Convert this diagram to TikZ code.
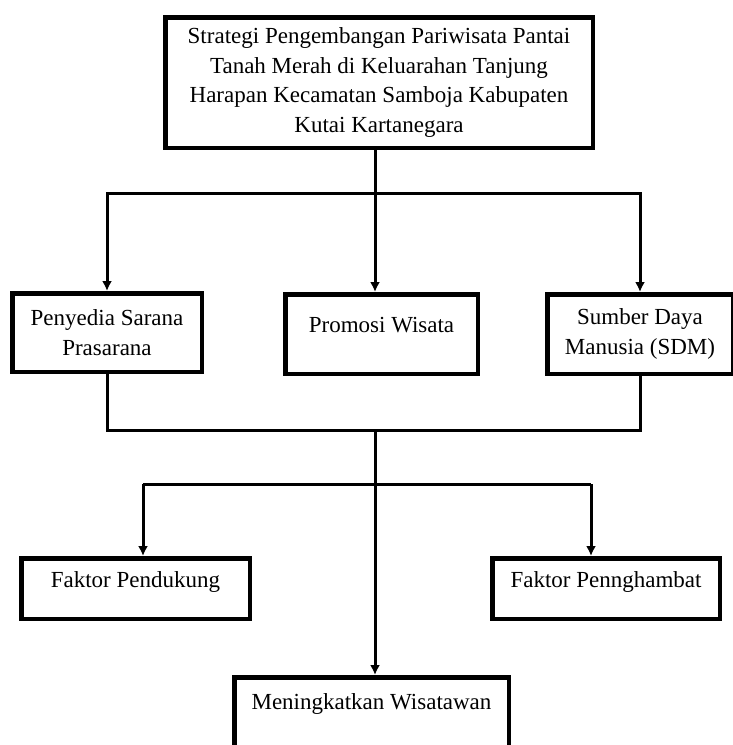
\documentclass[tikz,border=0pt]{standalone}
\usepackage{fontspec}
\setmainfont{Liberation Serif}
\usetikzlibrary{arrows.meta}

\begin{document}
\begin{tikzpicture}[x=1pt, y=-1pt,
    kotak/.style={draw, line width=4.5pt, inner sep=0pt, align=center, font=\fontsize{23}{29.5}\selectfont},
    atas/.style={text height=16pt, text depth=#1},
    garis/.style={line width=3pt},
    panah/.style={line width=3pt, -{Latex[length=10pt,width=10pt]}}]
    \useasboundingbox (0,0) rectangle (733,745);
    \clip (0,0) rectangle (733,745);

    \node[kotak, minimum width=427.5pt, minimum height=130.5pt] (strategi) at (379,82.5)
        {Strategi Pengembangan Pariwisata Pantai\\ Tanah Merah di Keluarahan Tanjung\\ Harapan Kecamatan Samboja Kabupaten\\ Kutai Kartanegara};

    \node[kotak, minimum width=189.5pt, minimum height=78.5pt] (sarana) at (107,332.5) {Penyedia Sarana\\ Prasarana};
    \node[kotak, atas=20pt, minimum width=192.5pt, minimum height=79.5pt] (promosi) at (381.5,334) {Promosi Wisata};
    \node[kotak, minimum width=185.5pt, minimum height=79.5pt] (sdm) at (640,334) {Sumber Daya\\ Manusia (SDM)};

    \node[kotak, atas=19pt, minimum width=228.5pt, minimum height=60.5pt] (pendukung) at (135.5,588.5) {Faktor Pendukung};
    \node[kotak, atas=19pt, minimum width=227.5pt, minimum height=60.5pt] (penghambat) at (606,588.5) {Faktor Pennghambat};
    \node[kotak, atas=32pt, minimum width=274.5pt, minimum height=79.5pt] (wisatawan) at (371.5,717) {Meningkatkan Wisatawan};

    \coordinate (cabang1) at (375,193);
    \coordinate (cabang2) at (375,430);
    \coordinate (kiri) at (143,484);
    \coordinate (kanan) at (591,484);

    % dari strategi ke tiga program
    \draw[garis] (strategi.south -| cabang1) -- (cabang1);
    \draw[panah] (cabang1) -| (sarana.north);
    \draw[panah] (cabang1) -- (cabang1 |- promosi.north);
    \draw[panah] (cabang1) -| (sdm.north);

    % gabungan ke hasil
    \draw[garis] (sarana.south) |- (cabang2) -| (sdm.south);
    \draw[panah] (cabang2) -- (cabang2 |- wisatawan.north);

    % faktor
    \draw[garis] (kiri) -- (kanan);
    \draw[panah] (kiri) -- (kiri |- pendukung.north);
    \draw[panah] (kanan) -- (kanan |- penghambat.north);
\end{tikzpicture}
\end{document}
